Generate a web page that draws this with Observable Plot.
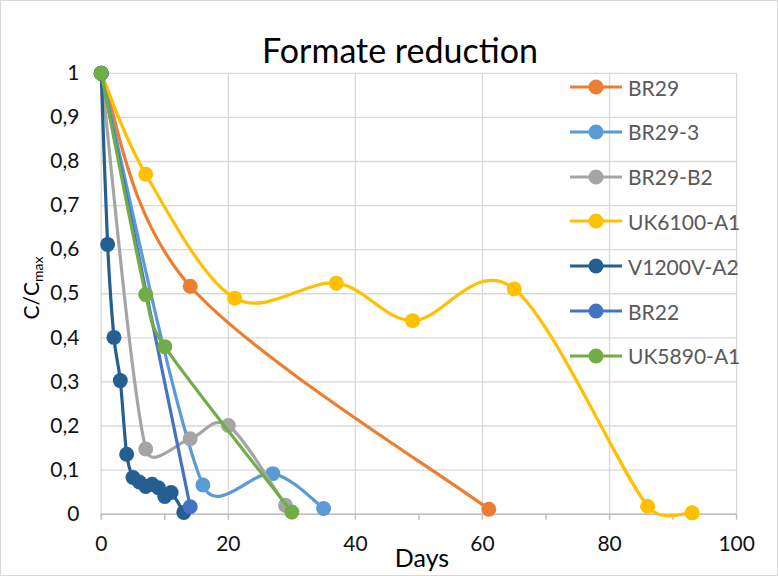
<!DOCTYPE html>
<html>
<head>
<meta charset="utf-8">
<script src="https://cdn.jsdelivr.net/npm/d3@7"></script>
<script src="https://cdn.jsdelivr.net/npm/@observablehq/plot@0.6"></script>
<style>
  html, body { margin: 0; padding: 0; background: #fff; }
  #chart { position: relative; width: 778px; height: 576px; box-sizing: border-box; border: 1px solid #d9d9d9; overflow: hidden; font-family: Lato, sans-serif; }
  #chart svg.plot { position: absolute; left: -1px; top: -1px; }
  #title { position: absolute; left: 0; width: 798px; text-align: center; top: 28px; font-size: 34px; color: #000; white-space: nowrap; }
  #ylabel { position: absolute; left: 31px; top: 287px; transform: translate(-50%, -50%) rotate(-90deg); font-size: 21px; color: #000; white-space: nowrap; }
  #ylabel sub { font-size: 14px; vertical-align: -4px; }
  #xlabel { position: absolute; left: 421px; top: 556px; transform: translate(-50%, -50%); font-size: 25px; color: #000; }
  .leg { position: absolute; left: 568px; height: 30px; display: flex; align-items: center; font-size: 21px; color: #595959; white-space: nowrap; }
  .leg svg { margin-right: 5px; }
</style>
</head>
<body>
<div id="chart">
  <div id="title">Formate reduction</div>
  <div id="ylabel">C/C<sub>max</sub></div>
  <div id="xlabel">Days</div>
</div>
<script>
// ---- data ----
const series = ["BR29", "BR29-3", "BR29-B2", "UK6100-A1", "V1200V-A2", "BR22", "UK5890-A1"];
const colors = ["#ED7D31", "#5B9BD5", "#A5A5A5", "#FFC000", "#255E91", "#4472C4", "#70AD47"];

const br29Days = [0, 14, 61];
const br29Vals = [1, 0.517, 0.011];
const br29_3Days = [0, 16, 27, 35];
const br29_3Vals = [1, 0.066, 0.092, 0.013];
const br29B2Days = [0, 7, 14, 20, 29];
const br29B2Vals = [1, 0.148, 0.171, 0.201, 0.02];
const uk6100Days = [0, 7, 21, 37, 49, 65, 86, 93];
const uk6100Vals = [1, 0.771, 0.49, 0.524, 0.439, 0.511, 0.018, 0.003];
const v1200Days = [0, 1, 2, 3, 4, 5, 6, 7, 8, 9, 10, 11, 13];
const v1200Vals = [1, 0.612, 0.401, 0.303, 0.136, 0.083, 0.073, 0.063, 0.068, 0.06, 0.04, 0.049, 0.004];
const br22Days = [0, 14];
const br22Vals = [1, 0.017];
const uk5890Days = [0, 7, 10, 30];
const uk5890Vals = [1, 0.498, 0.38, 0.005];

const xGridTicks = [0, 20, 40, 60, 80, 100];
const xMinorTicks = [0, 10, 20, 30, 40, 50, 60, 70, 80, 90, 100];
const yTicks = [0, 0.1, 0.2, 0.3, 0.4, 0.5, 0.6, 0.7, 0.8, 0.9, 1];

const seriesDays = [br29Days, br29_3Days, br29B2Days, uk6100Days, v1200Days, br22Days, uk5890Days];
const seriesVals = [br29Vals, br29_3Vals, br29B2Vals, uk6100Vals, v1200Vals, br22Vals, uk5890Vals];

const tables = series.map((name, i) => seriesDays[i].map((d, j) => ({series: name, day: d, value: seriesVals[i][j]})));

const fmt = d => (d === 0 || d === 1) ? String(d) : d.toFixed(1).replace(".", ",");

// Spreadsheet-style smoothed line: cardinal tangents, control length limited by adjacent segment
function smoothCurve(context) {
  let pts;
  const ctrl = (a, b, c, dir) => {
    const tx = c[0] - a[0], ty = c[1] - a[1];
    const L = Math.hypot(tx, ty);
    if (!L) return b;
    const adj = dir > 0 ? Math.hypot(c[0] - b[0], c[1] - b[1]) : Math.hypot(b[0] - a[0], b[1] - a[1]);
    const len = Math.min(L / 6, 0.5 * adj);
    return [b[0] + dir * tx / L * len, b[1] + dir * ty / L * len];
  };
  return {
    areaStart() {}, areaEnd() {},
    lineStart() { pts = []; },
    point(x, y) { pts.push([+x, +y]); },
    lineEnd() {
      const n = pts.length;
      if (!n) return;
      context.moveTo(pts[0][0], pts[0][1]);
      if (n === 1) return;
      for (let i = 0; i < n - 1; i++) {
        const p1 = pts[i], p2 = pts[i + 1];
        const p0 = pts[i - 1] || p1, p3 = pts[i + 2] || p2;
        const c1 = ctrl(p0, p1, p2, 1);
        const c2 = ctrl(p1, p2, p3, -1);
        context.bezierCurveTo(c1[0], c1[1], c2[0], c2[1], p2[0], p2[1]);
      }
    }
  };
}

const marks = [
  Plot.gridY(yTicks, {stroke: "#D9D9D9", strokeOpacity: 1, strokeWidth: 1.3}),
  Plot.gridX(xGridTicks, {stroke: "#D9D9D9", strokeOpacity: 1, strokeWidth: 1.3}),
  Plot.ruleY([0], {stroke: "#BFBFBF", strokeWidth: 1.5}),
  Plot.axisX(xMinorTicks, {tickSize: 6, stroke: "#BFBFBF", strokeWidth: 1.5, tickFormat: () => ""}),
  Plot.axisX(xGridTicks, {tickSize: 0, tickPadding: 22, fontSize: 21, fill: "#111", tickFormat: d => String(d)}),
  Plot.axisY(yTicks, {tickSize: 0, tickPadding: 22, fontSize: 21, fill: "#111", tickFormat: fmt})
];
tables.forEach((t, i) => {
  marks.push(Plot.line(t, {x: "day", y: "value", stroke: colors[i], strokeWidth: 3.2, curve: smoothCurve}));
  marks.push(Plot.dot(t, {x: "day", y: "value", r: 7.5, fill: colors[i], stroke: "none"}));
});

const plot = Plot.plot({
  width: 778,
  height: 576,
  marginLeft: 101,
  marginRight: 40,
  marginTop: 73,
  marginBottom: 61,
  style: {fontFamily: "Lato, sans-serif", background: "transparent"},
  x: {domain: [0, 100], label: null},
  y: {domain: [0, 1], label: null},
  marks
});
plot.classList.add("plot");
const chart = document.getElementById("chart");
chart.insertBefore(plot, chart.firstChild);

// legend (HTML overlay)
series.forEach((name, i) => {
  const el = document.createElement("div");
  el.className = "leg";
  el.style.top = (87 + i * 44.8 - 15 - 1) + "px";
  el.innerHTML = `<svg width="54" height="16"><line x1="1" y1="8" x2="53" y2="8" stroke="${colors[i]}" stroke-width="3.2"/><circle cx="27" cy="8" r="7.5" fill="${colors[i]}"/></svg><span>${name}</span>`;
  chart.appendChild(el);
});
</script>
</body>
</html>
